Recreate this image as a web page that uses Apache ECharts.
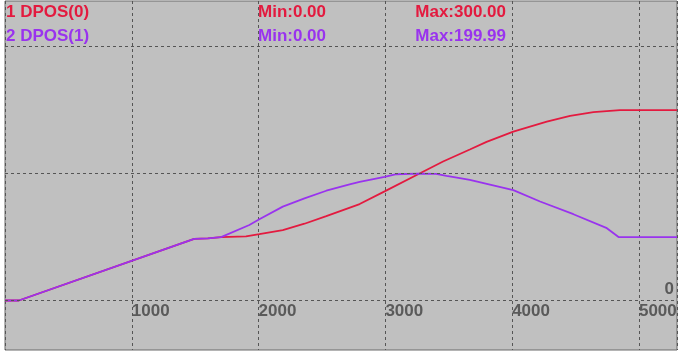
<!DOCTYPE html>
<html>
<head>
<meta charset="utf-8">
<script src="https://cdn.jsdelivr.net/npm/echarts@6/dist/echarts.min.js"></script>
<style>
html, body { margin: 0; padding: 0; background: #fff; }
#chart { width: 684px; height: 354px; }
</style>
</head>
<body>
<div id="chart"></div>
<script>
// DPOS(0) 红线
var tRed = [0, 109, 1492, 1600, 1704, 1901, 2006, 2191, 2362, 2534, 2797, 2994, 3258, 3455, 3666, 3798, 4009, 4273, 4457, 4641, 4850, 5300];
var vRed = [0, 0, 97, 98, 100, 101, 104.5, 111, 121, 133, 152, 172, 199, 219, 238, 250, 266, 282, 291, 297, 300, 300];
// DPOS(1) 紫线
var tPurple = [0, 109, 1492, 1600, 1704, 1927, 2006, 2191, 2362, 2534, 2718, 2797, 2994, 3087, 3258, 3400, 3482, 3587, 3666, 4009, 4220, 4483, 4747, 4839, 5300];
var vPurple = [0, 0, 97, 98, 100, 119, 128, 148, 161, 173, 183, 187, 195, 199, 200, 199.5, 196.5, 193, 190, 174, 156, 136, 114, 100, 100];

var xTicks = [1000, 2000, 3000, 4000, 5000];
var yLines = [0, 200, 400];

var names = ['1 DPOS(0)', '2 DPOS(1)'];
var mins = ['Min:0.00', 'Min:0.00'];
var maxs = ['Max:300.00', 'Max:199.99'];

var RED = '#e31a3f', PURPLE = '#9933ee', GRID = '#555555';

function pairs(t, v){
    var out = [];
    for(var i = 0; i < t.length; i++){
        out.push([t[i], v[i]]);
    }
    return out;
}

var myChart = echarts.init(document.getElementById('chart'));

var font = { fontFamily: 'Liberation Sans', fontSize: 17, fontWeight: 'bold' };
var titles = [];
var colors = [RED, PURPLE];
for(var k = 0; k < 2; k++){
    var st = Object.assign({ color: colors[k] }, font);
    titles.push({ text: names[k], left: 6, top: 4 + k * 24, padding: 0, textStyle: st });
    titles.push({ text: mins[k], left: 258, top: 4 + k * 24, padding: 0, textStyle: st });
    titles.push({ text: maxs[k], right: 178, top: 4 + k * 24, padding: 0, textStyle: st });
}

var option = {
    animation: false,
    title: titles,
    grid: {
        left: 5, right: 7, top: 1, bottom: 4,
        outerBoundsMode: 'none',
        containLabel: false,
        show: true,
        backgroundColor: '#c0c0c0',
        borderColor: '#6a6a6a',
        borderWidth: 1
    },
    xAxis: {
        type: 'value',
        min: 0, max: 5300, interval: 1000,
        // 标签放在0线下方
        offset: -49.5,
        axisLine: { show: false, onZero: false },
        axisTick: { show: false },
        axisLabel: {
            color: '#5a5a5a',
            fontFamily: 'Liberation Sans', fontSize: 17, fontWeight: 'bold',
            align: 'left', margin: 2,
            formatter: function(v){ return xTicks.indexOf(v) >= 0 ? String(v) : ''; }
        },
        splitLine: { show: true, lineStyle: { color: GRID, type: [3, 3], width: 1 } }
    },
    yAxis: {
        type: 'value',
        min: -78, max: 472,
        axisLine: { show: false, onZero: false },
        axisTick: { show: false },
        axisLabel: { show: false },
        splitLine: { show: false }
    },
    series: [
        {
            name: names[0],
            type: 'line',
            data: pairs(tRed, vRed),
            symbol: 'none',
            lineStyle: { color: RED, width: 1.8 },
            markLine: {
                silent: true,
                symbol: 'none',
                animation: false,
                lineStyle: { color: GRID, type: [3, 3], width: 1 },
                label: { show: false },
                data: yLines.map(function(y){
                    return {
                        yAxis: y,
                        label: y === 0 ? {
                            show: true, position: 'insideEndTop', formatter: '0', distance: 3,
                            color: '#5a5a5a', fontFamily: 'Liberation Sans', fontSize: 17, fontWeight: 'bold'
                        } : { show: false }
                    };
                })
            }
        },
        {
            name: names[1],
            type: 'line',
            data: pairs(tPurple, vPurple),
            symbol: 'none',
            lineStyle: { color: PURPLE, width: 1.8 }
        }
    ]
};

myChart.setOption(option);
</script>
</body>
</html>
